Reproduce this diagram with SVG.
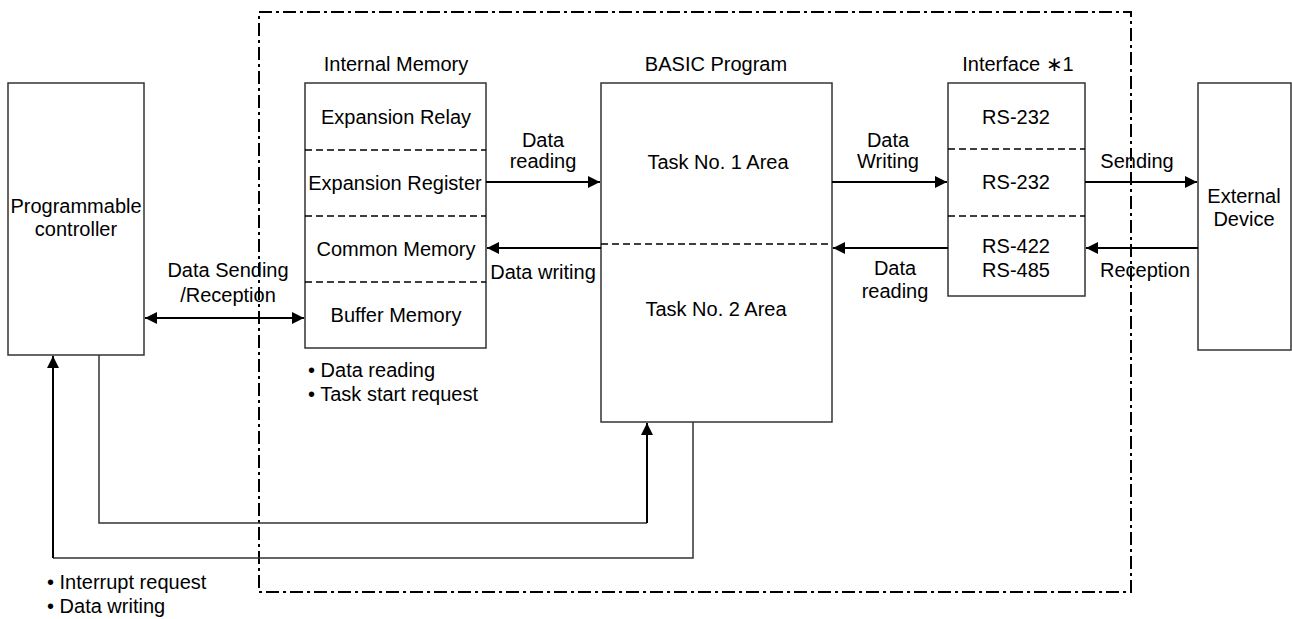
<svg xmlns="http://www.w3.org/2000/svg" width="1292" height="619" viewBox="0 0 1292 619">
<defs>
<style>
text{font-family:"Liberation Sans",Arial,sans-serif;font-size:20px;fill:#000}
.c{text-anchor:middle}
.box{fill:#fff;stroke:#333;stroke-width:1.5}
.sep{stroke:#000;stroke-width:1.5;stroke-dasharray:7,4;fill:none}
.frame{fill:none;stroke:#000;stroke-width:2;stroke-dasharray:13,4,3,4}
.arr{stroke:#000;stroke-width:2;fill:none}
.thin{stroke:#333;stroke-width:1.5;fill:none}
</style>
<marker id="ah" viewBox="0 0 12 12" refX="12" refY="6" markerWidth="12" markerHeight="12" markerUnits="userSpaceOnUse" orient="auto-start-reverse">
<path d="M0,0 L12,6 L0,12 Z" fill="#000"/>
</marker>
</defs>
<rect class="frame" x="259" y="12" width="872" height="580"/>
<g id="pc">
<rect class="box" x="8" y="83" width="136" height="272"/>
<text class="c" x="76" y="213">Programmable</text>
<text class="c" x="76" y="236">controller</text>
</g>
<g id="internal-memory">
<text class="c" x="396" y="71">Internal Memory</text>
<rect class="box" x="305" y="83" width="181" height="265"/>
<line class="sep" x1="305" y1="150" x2="486" y2="150"/>
<line class="sep" x1="305" y1="216" x2="486" y2="216"/>
<line class="sep" x1="305" y1="282" x2="486" y2="282"/>
<text class="c" x="396" y="124">Expansion Relay</text>
<text class="c" x="395" y="190">Expansion Register</text>
<text class="c" x="396" y="256">Common Memory</text>
<text class="c" x="396" y="322">Buffer Memory</text>
<text x="308" y="377">• Data reading</text>
<text x="308" y="401">• Task start request</text>
</g>
<g id="basic-program">
<text class="c" x="716" y="71">BASIC Program</text>
<rect class="box" x="601" y="83" width="231" height="339"/>
<line class="sep" x1="601" y1="244" x2="832" y2="244"/>
<text class="c" x="718" y="169">Task No. 1 Area</text>
<text class="c" x="716" y="316">Task No. 2 Area</text>
</g>
<g id="interface">
<text class="c" x="1018" y="71">Interface ∗1</text>
<rect class="box" x="948" y="83" width="137" height="213"/>
<line class="sep" x1="948" y1="149" x2="1085" y2="149"/>
<line class="sep" x1="948" y1="216" x2="1085" y2="216"/>
<text class="c" x="1016" y="124">RS-232</text>
<text class="c" x="1016" y="189">RS-232</text>
<text class="c" x="1016" y="253">RS-422</text>
<text class="c" x="1016" y="277">RS-485</text>
</g>
<g id="external-device">
<rect class="box" x="1198" y="83" width="93" height="267"/>
<text class="c" x="1244" y="203">External</text>
<text class="c" x="1244" y="226">Device</text>
</g>
<g id="connectors">
<line class="arr" x1="145" y1="318" x2="304" y2="318" marker-start="url(#ah)" marker-end="url(#ah)"/>
<line class="arr" x1="486" y1="182" x2="600" y2="182" marker-end="url(#ah)"/>
<line class="arr" x1="601" y1="248" x2="487" y2="248" marker-end="url(#ah)"/>
<line class="arr" x1="832" y1="182" x2="947" y2="182" marker-end="url(#ah)"/>
<line class="arr" x1="948" y1="248" x2="833" y2="248" marker-end="url(#ah)"/>
<line class="arr" x1="1085" y1="182" x2="1197" y2="182" marker-end="url(#ah)"/>
<line class="arr" x1="1198" y1="248" x2="1086" y2="248" marker-end="url(#ah)"/>
<polyline class="thin" points="99,355 99,523 647,523"/>
<line class="arr" x1="647" y1="523" x2="647" y2="423" marker-end="url(#ah)"/>
<polyline class="thin" points="693,422 693,558 53,558"/>
<line class="arr" x1="53" y1="558" x2="53" y2="356" marker-end="url(#ah)"/>
</g>
<g id="labels">
<text class="c" x="543" y="147">Data</text>
<text class="c" x="543" y="168">reading</text>
<text class="c" x="543" y="279">Data writing</text>
<text class="c" x="888" y="147">Data</text>
<text class="c" x="888" y="168">Writing</text>
<text class="c" x="895" y="275">Data</text>
<text class="c" x="895" y="298">reading</text>
<text class="c" x="1137" y="168">Sending</text>
<text class="c" x="1145" y="277">Reception</text>
<text class="c" x="228" y="277">Data Sending</text>
<text class="c" x="228" y="302">/Reception</text>
<text x="47" y="589">• Interrupt request</text>
<text x="47" y="613">• Data writing</text>
</g>
</svg>
